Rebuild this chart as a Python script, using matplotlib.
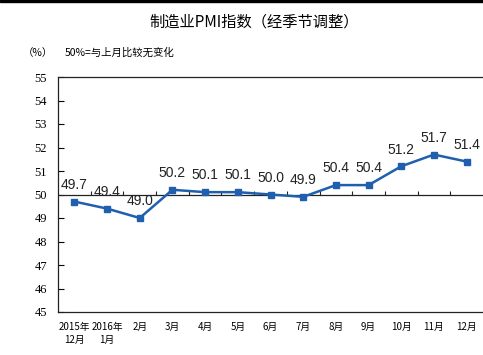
import matplotlib
matplotlib.use("Agg")
import matplotlib.pyplot as plt
import numpy as np

categories = ["2015年\n12月", "2016年\n1月", "2月", "3月", "4月", "5月", "6月",
              "7月", "8月", "9月", "10月", "11月", "12月"]
values = [49.7, 49.4, 49.0, 50.2, 50.1, 50.1, 50.0, 49.9, 50.4, 50.4, 51.2, 51.7, 51.4]
yticks = [45, 46, 47, 48, 49, 50, 51, 52, 53, 54, 55]

title = "制造业PMI指数（经季节调整）"
unit = "（%）"
note = "50%=与上月比较无变化"

cjk = ["Noto Sans CJK SC", "DejaVu Sans"]
line_color = "#1F5FAD"

fig = plt.figure(figsize=(4.83, 3.55), dpi=100)
ax = fig.add_axes([58 / 483, 1 - 312 / 355, 1 - 58 / 483, (312 - 77) / 355])

x = np.arange(len(values))
ax.plot(x, values, color=line_color, lw=1.8, marker="s", markersize=4,
        markerfacecolor=line_color, markeredgecolor=line_color, zorder=3)

for xi, v in zip(x, values):
    ax.annotate(f"{v:.1f}", (xi, v), xytext=(0, 12), textcoords="offset points",
                ha="center", va="center", fontsize=10, family="Liberation Sans",
                color="#222222")

ax.set_xlim(-0.5, len(values) - 0.5)
ax.set_ylim(yticks[0], yticks[-1])
ax.set_yticks(yticks)
ax.set_yticklabels([str(t) for t in yticks], family="Liberation Serif", fontsize=9)
ax.tick_params(axis="y", direction="in", length=4, width=0.8, pad=8, color="black")

ax.set_xticks(x)
ax.set_xticklabels(categories, family=cjk, fontsize=7, linespacing=1.4)
ax.tick_params(axis="x", length=0, pad=7)

for s in ["left", "top", "bottom"]:
    ax.spines[s].set_color("#222222")
    ax.spines[s].set_linewidth(0.9)
ax.spines["right"].set_visible(False)

# 50 reference line with category-boundary ticks
ax.axhline(50, color="#222222", lw=0.9, zorder=2)
bounds = np.arange(len(values) - 1) + 0.5
ax.vlines(bounds, 50, 50 + 0.17, color="#222222", lw=0.8, zorder=2)

fig.text(254 / 483, 1 - 22 / 355, title, ha="center", va="center",
         family=cjk, fontsize=11)
fig.text(38 / 483, 1 - 53 / 355, unit, ha="center", va="center",
         family=cjk, fontsize=7.5)
fig.text(65 / 483, 1 - 53 / 355, note, ha="left", va="center",
         family=cjk, fontsize=7.5)

# thin dark band at the very top of the image
fig.patches.append(plt.Rectangle((0, 1 - 2 / 355), 1, 2 / 355, transform=fig.transFigure,
                                 color="black", zorder=10))

fig.savefig("out.png", dpi=100)
